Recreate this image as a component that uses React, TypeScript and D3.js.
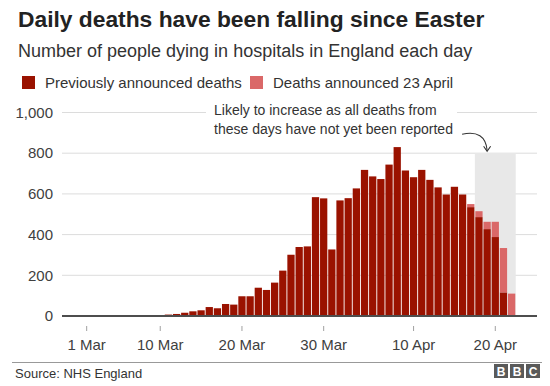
import * as d3 from 'd3';
import * as React from 'react';

// deaths per day from 1 Mar 2020
const previousDeaths = [
    0, 0, 0, 0, 0, 0, 0, 0, 0, 0,
    7, 10, 16, 23, 28, 44, 38, 59, 56, 97,
    97, 139, 128, 164, 223, 301, 339, 342, 584, 578,
    327, 568, 579, 627, 718, 686, 673, 744, 830, 715,
    682, 718, 669, 632, 597, 635, 597, 535, 486, 427,
    388, 116, 0,
];
const announced23April = [
    0, 0, 0, 0, 0, 0, 0, 0, 0, 0,
    0, 0, 0, 0, 0, 0, 0, 0, 0, 0,
    0, 0, 0, 0, 0, 0, 0, 0, 0, 0,
    0, 0, 0, 0, 0, 0, 0, 0, 0, 0,
    0, 0, 0, 0, 0, 0, 0, 15, 29, 36,
    75, 218, 110,
];
const startDate = Date.UTC(2020, 2, 1);
const tickDates = [Date.UTC(2020, 2, 1), Date.UTC(2020, 2, 10), Date.UTC(2020, 2, 20), Date.UTC(2020, 2, 30), Date.UTC(2020, 3, 10), Date.UTC(2020, 3, 20)];
const tickLabels = ['1 Mar', '10 Mar', '20 Mar', '30 Mar', '10 Apr', '20 Apr'];
const yTicks = [0, 200, 400, 600, 800, 1000];
const shadeFrom = Date.UTC(2020, 3, 18);
const shadeTo = Date.UTC(2020, 3, 22);
const shadeTop = 800;
const arrowDay = Date.UTC(2020, 3, 19);

const width = 550;
const height = 386;
const font = '"Liberation Sans", Arial, Helvetica, sans-serif';
const darkRed = '#9a1200';
const lightRed = '#da6868';
const DAY = 86400000;
const HALF = DAY / 2;

export default function App() {
    const x = d3.scaleUtc()
        .domain([new Date(Date.UTC(2020, 1, 27, 11, 30)), new Date(Date.UTC(2020, 3, 25, 14, 30))])
        .range([62, 537]);
    const y = d3.scaleLinear().domain([0, 1000]).range([316, 112.5]);
    const fmt = d3.format(',');

    const days = previousDeaths.map((v, i) => ({
        t: startDate + i * DAY,
        prev: v,
        extra: announced23April[i],
    }));

    const gap = 0.45;
    const bars = days.map((d) => {
        const x0 = x(new Date(d.t)) + gap;
        const x1 = x(new Date(d.t + DAY)) - gap;
        return (
            <g key={d.t}>
                {d.prev > 0 && (
                    <rect x={x0} width={x1 - x0} y={y(d.prev)} height={y(0) - y(d.prev)} fill={darkRed} />
                )}
                {d.extra > 0 && (
                    <rect x={x0} width={x1 - x0} y={y(d.prev + d.extra)} height={y(d.prev) - y(d.prev + d.extra)} fill={lightRed} />
                )}
            </g>
        );
    });

    const sx0 = x(new Date(shadeFrom));
    const sx1 = x(new Date(shadeTo + DAY));
    const tipX = x(new Date(arrowDay + HALF));
    const tipY = y(shadeTop) - 2;

    return (
        <svg width={width} height={height} style={{position: 'absolute', left: 0, top: 0, background: '#fff'}} fontFamily={font}>
            <text x={18} y={27} fontSize={22.8} fontWeight='bold' fill='#222'>Daily deaths have been falling since Easter</text>
            <text x={18} y={57} fontSize={18} fill='#333'>Number of people dying in hospitals in England each day</text>

            <g className='legend'>
                <rect x={22} y={76} width={13} height={13} fill={darkRed} />
                <text x={45} y={88} fontSize={15} fill='#333'>Previously announced deaths</text>
                <rect x={250} y={76} width={13} height={13} fill={lightRed} />
                <text x={273} y={88} fontSize={15} fill='#333'>Deaths announced 23 April</text>
            </g>

            <g className='y-axis'>
                {yTicks.map((t) => (
                    <g key={t}>
                        {t > 0 && <line x1={62} x2={537} y1={y(t)} y2={y(t)} stroke='#dcdcdc' strokeWidth={1} />}
                        <text x={53} y={y(t)} dy='0.35em' textAnchor='end' fontSize={15} fill='#404040'>{fmt(t)}</text>
                    </g>
                ))}
            </g>

            <rect x={sx0} width={sx1 - sx0} y={y(shadeTop)} height={y(0) - y(shadeTop)} fill='#e8e8e8' />

            {bars}

            <line x1={62} x2={537} y1={y(0)} y2={y(0)} stroke='#4d4d4d' strokeWidth={2} />

            <g className='x-axis'>
                {tickDates.map((t, i) => (
                    <g key={t} transform={`translate(${x(new Date(t + HALF))},0)`}>
                        <line x1={0} x2={0} y1={326} y2={331} stroke='#a0a0a0' strokeWidth={1} />
                        <text y={350} textAnchor='middle' fontSize={15} fill='#404040'>{tickLabels[i]}</text>
                    </g>
                ))}
            </g>

            <g className='annotation'>
                <rect x={206} y={104} width={251} height={16} fill='#fff' />
                <text x={214} y={115} fontSize={14} fill='#333'>Likely to increase as all deaths from</text>
                <text x={214} y={134} fontSize={14} fill='#333'>these days have not yet been reported</text>
                <path d={`M${tipX - 25},${tipY - 17} Q${tipX - 2},${tipY - 22} ${tipX},${tipY - 1}`} fill='none' stroke='#333' strokeWidth={1.1} />
                <path d={`M${tipX - 3.5},${tipY - 5} L${tipX},${tipY} L${tipX + 3.5},${tipY - 5}`} fill='none' stroke='#333' strokeWidth={1.1} />
            </g>

            <line x1={12} x2={542} y1={362.5} y2={362.5} stroke='#999' strokeWidth={1} />
            <text x={15} y={378} fontSize={13} fill='#333'>Source: NHS England</text>
            <g className='bbc'>
                {['B', 'B', 'C'].map((c, i) => (
                    <g key={i} transform={`translate(${494 + i * 16},364)`}>
                        <rect width={14} height={14} fill='#5a5a5a' />
                        <text x={7} y={11.5} textAnchor='middle' fontSize={12} fontWeight='bold' fill='#fff'>{c}</text>
                    </g>
                ))}
            </g>
        </svg>
    );
}
